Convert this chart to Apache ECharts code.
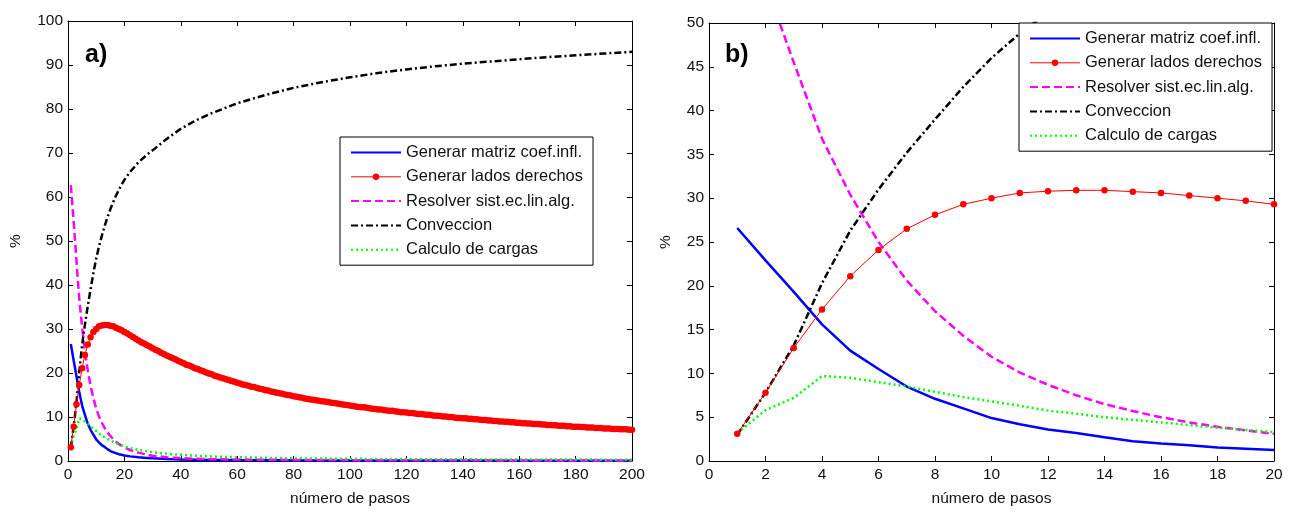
<!DOCTYPE html>
<html>
<head>
<meta charset="utf-8">
<script src="https://cdn.jsdelivr.net/npm/echarts@6/dist/echarts.min.js"></script>
<style>
html,body{margin:0;padding:0;background:#fff;}
#chart{width:1293px;height:512px;}
</style>
</head>
<body>
<div id="chart"></div>
<script>
// ---- data ----
const seriesNames = ['Generar matriz coef.infl.', 'Generar lados derechos', 'Resolver sist.ec.lin.alg.', 'Conveccion', 'Calculo de cargas'];

// steps 1..20 (panel b, and start of panel a)
const steps20 = [1,2,3,4,5,6,7,8,9,10,11,12,13,14,15,16,17,18,19,20];
const blue20    = [26.6, 22.9, 19.3, 15.6, 12.6, 10.5, 8.5, 7.1, 6.0, 4.9, 4.2, 3.6, 3.2, 2.7, 2.25, 2.0, 1.8, 1.55, 1.4, 1.25];
const red20     = [3.1, 7.8, 12.9, 17.3, 21.1, 24.1, 26.5, 28.1, 29.3, 30.0, 30.6, 30.8, 30.9, 30.9, 30.75, 30.6, 30.3, 30.0, 29.7, 29.3];
const magenta20 = [62.7, 54.5, 45.5, 36.8, 30.4, 25.0, 20.6, 17.1, 14.3, 11.9, 10.1, 8.7, 7.5, 6.5, 5.7, 5.0, 4.4, 3.9, 3.5, 3.1];
const black20   = [3.0, 7.8, 13.2, 20.3, 26.3, 31.0, 35.2, 39.0, 42.7, 46.0, 48.8, 51.2, 53.4, 55.4, 57.2, 58.8, 60.3, 61.6, 62.8, 63.9];
const green20   = [3.2, 5.8, 7.2, 9.7, 9.5, 9.0, 8.5, 7.9, 7.3, 6.8, 6.3, 5.75, 5.4, 5.0, 4.7, 4.4, 4.1, 3.8, 3.55, 3.3];

// steps 21..200 for the red series (markers at every step in panel a)
const stepsRedLong = [];
for (let s = 21; s <= 200; s++) stepsRedLong.push(s);
const redLong = [
  29.0,28.6,28.2,27.8,27.4,27.0,26.7,26.3,26.0,25.6,
  25.3,25.0,24.6,24.3,24.0,23.7,23.4,23.1,22.8,22.5,
  22.2,21.9,21.7,21.4,21.1,20.9,20.6,20.4,20.1,19.9,
  19.7,19.4,19.2,19.0,18.8,18.6,18.4,18.2,18.0,17.8,
  17.6,17.4,17.3,17.1,16.9,16.8,16.6,16.4,16.3,16.1,
  16.0,15.8,15.7,15.5,15.4,15.3,15.1,15.0,14.9,14.7,
  14.6,14.5,14.4,14.2,14.1,14.0,13.9,13.8,13.7,13.6,
  13.5,13.4,13.3,13.2,13.1,13.0,12.9,12.8,12.7,12.6,
  12.5,12.4,12.3,12.2,12.2,12.1,12.0,11.9,11.8,11.7,
  11.7,11.6,11.5,11.4,11.4,11.3,11.2,11.1,11.1,11.0,
  10.9,10.9,10.8,10.7,10.7,10.6,10.5,10.5,10.4,10.3,
  10.3,10.2,10.1,10.1,10.0,10.0,9.9,9.8,9.8,9.7,
  9.7,9.6,9.6,9.5,9.5,9.4,9.3,9.3,9.2,9.2,
  9.1,9.1,9.0,9.0,8.9,8.9,8.8,8.8,8.7,8.7,
  8.6,8.6,8.5,8.5,8.4,8.4,8.4,8.3,8.3,8.2,
  8.2,8.1,8.1,8.0,8.0,8.0,7.9,7.9,7.8,7.8,
  7.8,7.7,7.7,7.6,7.6,7.6,7.5,7.5,7.5,7.4,
  7.4,7.4,7.3,7.3,7.3,7.2,7.2,7.2,7.1,7.1
];

// sparse readings beyond step 20 for the unmarked curves of panel a
const stepsLong   = [22, 25, 28, 30, 35, 40, 45, 50, 60, 70, 80, 90, 100, 110, 120, 130, 140, 150, 160, 170, 180, 190, 200];
const blueLong    = [1.05, 0.85, 0.7, 0.6, 0.45, 0.35, 0.3, 0.25, 0.2, 0.17, 0.15, 0.13, 0.12, 0.11, 0.1, 0.1, 0.09, 0.09, 0.08, 0.08, 0.08, 0.07, 0.07];
const magentaLong = [2.5, 1.9, 1.45, 1.2, 0.85, 0.65, 0.5, 0.42, 0.33, 0.28, 0.25, 0.22, 0.2, 0.18, 0.17, 0.16, 0.15, 0.14, 0.14, 0.13, 0.13, 0.12, 0.12];
const blackLong   = [65.7, 67.9, 69.6, 70.6, 73.2, 75.5, 77.3, 78.8, 81.3, 83.2, 84.8, 86.1, 87.2, 88.2, 89.0, 89.7, 90.3, 90.8, 91.3, 91.8, 92.2, 92.6, 93.0];
const greenLong   = [2.95, 2.5, 2.2, 2.0, 1.65, 1.4, 1.2, 1.05, 0.85, 0.72, 0.62, 0.55, 0.5, 0.46, 0.43, 0.4, 0.38, 0.36, 0.34, 0.33, 0.32, 0.31, 0.3];

// ---- helpers ----
function pairs(xs, ys) { return xs.map((x, i) => [x, ys[i]]); }
const FONT = 'Arial, "Liberation Sans", Helvetica, sans-serif';
const TXT = '#111';

const styles = [
  { color: '#0000ff', width: 2.5, type: 'solid', symbol: 'none' },
  { color: '#ff0000', width: 1, type: 'solid', symbol: 'circle' },
  { color: '#ff00ff', width: 2.5, type: [8, 4], symbol: 'none' },
  { color: '#000000', width: 2.5, type: [7, 3, 2, 3], symbol: 'none' },
  { color: '#00ff00', width: 2.5, type: [2, 3], symbol: 'none' }
];

const dataA = [
  pairs(steps20, blue20).concat(pairs(stepsLong, blueLong)),
  pairs(steps20, red20).concat(pairs(stepsRedLong, redLong)),
  pairs(steps20, magenta20).concat(pairs(stepsLong, magentaLong)),
  pairs(steps20, black20).concat(pairs(stepsLong, blackLong)),
  pairs(steps20, green20).concat(pairs(stepsLong, greenLong))
];
const dataB = [
  pairs(steps20, blue20),
  pairs(steps20, red20),
  pairs(steps20, magenta20),
  pairs(steps20, black20),
  pairs(steps20, green20)
];

function mkSeries(dataSets, xi, yi) {
  return dataSets.map((d, i) => ({
    name: seriesNames[i],
    type: 'line',
    xAxisIndex: xi, yAxisIndex: yi,
    data: d,
    clip: true,
    symbol: styles[i].symbol,
    symbolSize: 6.5,
    showSymbol: styles[i].symbol !== 'none',
    itemStyle: { color: styles[i].color },
    lineStyle: { color: styles[i].color, width: styles[i].width, type: styles[i].type },
    z: i === 1 ? 3 : 2,
    animation: false
  }));
}

function xAx(grid, max, interval, pos, main) {
  return {
    type: 'value', gridIndex: grid, min: 0, max: max, interval: interval, position: pos,
    name: main ? 'número de pasos' : '', nameLocation: 'middle', nameGap: 30,
    nameTextStyle: { color: TXT, fontSize: 15.5, fontFamily: FONT },
    axisLine: { show: true, onZero: false, lineStyle: { color: '#000', width: 1 } },
    axisTick: { show: true, inside: true, length: 5, lineStyle: { color: '#000' } },
    axisLabel: { show: main, color: TXT, fontSize: 15.5, fontFamily: FONT, margin: 6 },
    splitLine: { show: false }
  };
}
function yAx(grid, max, interval, pos, main, gap) {
  return {
    type: 'value', gridIndex: grid, min: 0, max: max, interval: interval, position: pos,
    name: main ? '%' : '', nameLocation: 'middle', nameGap: gap,
    nameTextStyle: { color: TXT, fontSize: 15.5, fontFamily: FONT },
    axisLine: { show: true, onZero: false, lineStyle: { color: '#000', width: 1 } },
    axisTick: { show: true, inside: true, length: 5, lineStyle: { color: '#000' } },
    axisLabel: { show: main, color: TXT, fontSize: 15.5, fontFamily: FONT, margin: 5 },
    splitLine: { show: false }
  };
}

function legendData() {
  return seriesNames.map((n, i) => styles[i].symbol === 'none'
    ? { name: n, itemStyle: { opacity: 0, borderWidth: 0 } }
    : { name: n, lineStyle: { width: 1 }, itemStyle: { borderWidth: 0 } });
}

function mkLegend(left, top) {
  return {
    left: left, top: top, orient: 'vertical',
    data: legendData(),
    padding: [7, 10, 7, 10],
    itemWidth: 50, itemHeight: 8, itemGap: 7.3,
    backgroundColor: '#fff', borderColor: '#000', borderWidth: 1, borderRadius: 0,
    selectedMode: false,
    textStyle: { color: TXT, fontSize: 16.5, fontFamily: FONT, lineHeight: 14 },
    z: 10
  };
}

const chart = echarts.init(document.getElementById('chart'), null, { renderer: 'canvas' });
chart.setOption({
  backgroundColor: '#fff',
  animation: false,
  grid: [
    { left: 68, top: 21, width: 564, height: 445 },
    { left: 709, top: 23, width: 565, height: 443 }
  ],
  xAxis: [
    xAx(0, 200, 20, 'bottom', true),
    xAx(0, 200, 20, 'top', false),
    xAx(1, 20, 2, 'bottom', true),
    xAx(1, 20, 2, 'top', false)
  ],
  yAxis: [
    yAx(0, 100, 10, 'left', true, 44),
    yAx(0, 100, 10, 'right', false, 0),
    yAx(1, 50, 5, 'left', true, 35),
    yAx(1, 50, 5, 'right', false, 0)
  ],
  legend: [mkLegend(340, 137), mkLegend(1019, 23)],
  graphic: [
    { type: 'text', left: 85, top: 43, z: 20, style: { text: 'a)', fontSize: 25, fontWeight: 'bold', fontFamily: FONT, fill: '#000' } },
    { type: 'text', left: 725, top: 43, z: 20, style: { text: 'b)', fontSize: 25, fontWeight: 'bold', fontFamily: FONT, fill: '#000' } }
  ],
  series: mkSeries(dataA, 0, 0).concat(mkSeries(dataB, 2, 2))
});
</script>
</body>
</html>
